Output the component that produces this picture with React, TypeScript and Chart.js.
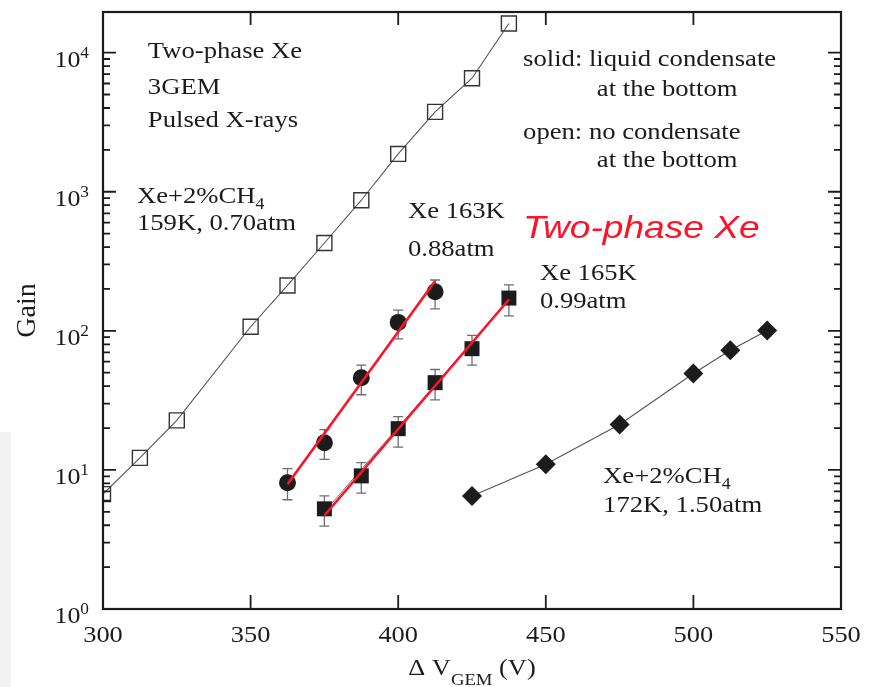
import React, { useEffect, useRef } from 'react';
import { Chart, registerables } from 'chart.js';

Chart.register(...registerables);

// ---- axis ranges & ticks ----
const X_MIN = 300;
const X_MAX = 550;
const Y_MIN = 1;
const Y_MAX = 19600;

const xTickValues = [300, 350, 400, 450, 500, 550];
const xTickLabels = ['300', '350', '400', '450', '500', '550'];
const yMajorValues = [1, 10, 100, 1000, 10000];
const yTickBase = '10';
const yTickExponents = ['0', '1', '2', '3', '4'];
const yMinorValues = [
  2, 3, 4, 5, 6, 7, 8, 9,
  20, 30, 40, 50, 60, 70, 80, 90,
  200, 300, 400, 500, 600, 700, 800, 900,
  2000, 3000, 4000, 5000, 6000, 7000, 8000, 9000,
];

// ---- series: Xe+2%CH4, 159K, 0.70atm (open squares) ----
const openSquareX = [300, 312.5, 325, 350, 362.5, 375, 387.5, 400, 412.5, 425, 437.5];
const openSquareGain = [6.7, 12.2, 22.7, 107, 212, 428, 869, 1870, 3750, 6550, 16200];

// ---- series: Xe 163K, 0.88atm (filled circles) ----
const circleX = [362.5, 375, 387.5, 400, 412.5];
const circleGain = [8.1, 15.7, 46, 115, 191];
const circleLow = [6.1, 11.9, 34.7, 87.6, 144];
const circleHigh = [10.2, 19.5, 56.7, 141, 232];

// ---- series: Xe 165K, 0.99atm (filled squares) ----
const filledSquareX = [375, 387.5, 400, 412.5, 425, 437.5];
const filledSquareGain = [5.25, 9.06, 19.8, 42.4, 74.4, 172];
const filledSquareLow = [3.94, 6.8, 14.6, 31.9, 56.7, 128];
const filledSquareHigh = [6.5, 11.3, 24.2, 52.7, 92.6, 214];

// ---- series: Xe+2%CH4, 172K, 1.50atm (diamonds) ----
const diamondX = [425, 450, 475, 500, 512.5, 525];
const diamondGain = [6.5, 11.0, 21.2, 49.4, 72.5, 100.7];

// ---- fit lines ----
const circleFitX = [362.5, 412.5];
const circleFitGain = [7.9, 228];
const squareFitX = [375, 437.5];
const squareFitGain = [4.7, 168];
const squareGrayFitX = [375, 437.5];
const squareGrayFitGain = [5.0, 166];

// ---- text ----
type Seg = { t: string; size?: number; dy?: number };
const CH4: Seg[] = [{ t: 'Xe+2%CH' }, { t: '4', size: 16, dy: 6 }];
const notes: { segs: Seg[]; x: number; y: number; red?: boolean }[] = [
  { segs: [{ t: 'Two-phase Xe' }], x: 315.2, y: 9200 },
  { segs: [{ t: '3GEM' }], x: 315.2, y: 5012 },
  { segs: [{ t: 'Pulsed X-rays' }], x: 315.2, y: 2917 },
  { segs: CH4, x: 311.5, y: 824 },
  { segs: [{ t: '159K, 0.70atm' }], x: 311.5, y: 529 },
  { segs: [{ t: 'Xe 163K' }], x: 403.3, y: 644 },
  { segs: [{ t: '0.88atm' }], x: 403.3, y: 345 },
  { segs: [{ t: 'Two-phase Xe' }], x: 442.3, y: 464, red: true },
  { segs: [{ t: 'Xe 165K' }], x: 448.0, y: 233 },
  { segs: [{ t: '0.99atm' }], x: 448.0, y: 147 },
  { segs: [{ t: 'solid: liquid condensate' }], x: 442.3, y: 8072 },
  { segs: [{ t: 'at the bottom' }], x: 467.3, y: 4853 },
  { segs: [{ t: 'open: no condensate' }], x: 442.3, y: 2395 },
  { segs: [{ t: 'at the bottom' }], x: 467.3, y: 1513 },
  { segs: CH4, x: 469.4, y: 8.04 },
  { segs: [{ t: '172K, 1.50atm' }], x: 469.4, y: 5.0 },
];
const yTitle = 'Gain';
const xTitle: Seg[] = [{ t: 'Δ V' }, { t: 'GEM', size: 17, dy: 10 }, { t: ' (V)' }];

const INK = '#1e1a1b';
const RED = 'rgb(255,18,40)';
const SERIF = '"Liberation Serif", "Times New Roman", serif';
const SANS = '"Liberation Sans", Arial, sans-serif';

function drawRich(
  ctx: CanvasRenderingContext2D,
  segs: Seg[],
  x: number,
  y: number,
  o: { size: number; family: string; style?: string; color: string; align?: string; sx?: number; rotate?: number }
) {
  const fontFor = (s: Seg) => `${o.style || ''} ${s.size || o.size}px ${o.family}`;
  const widths: number[] = [];
  let total = 0;
  for (const s of segs) {
    ctx.font = fontFor(s);
    const w = ctx.measureText(s.t).width;
    widths.push(w);
    total += w;
  }
  ctx.save();
  ctx.translate(x, y);
  if (o.rotate) ctx.rotate(o.rotate);
  ctx.scale(o.sx || 1, 1);
  let cx = o.align === 'center' ? -total / 2 : o.align === 'right' ? -total : 0;
  ctx.fillStyle = o.color;
  ctx.textAlign = 'left';
  ctx.textBaseline = 'alphabetic';
  segs.forEach((s, i) => {
    ctx.font = fontFor(s);
    ctx.fillText(s.t, cx, s.dy || 0);
    cx += widths[i];
  });
  ctx.restore();
}

const decorPlugin = {
  id: 'decor',
  beforeDraw(chart: any) {
    const ctx = chart.ctx;
    ctx.save();
    ctx.fillStyle = '#ffffff';
    ctx.fillRect(0, 0, chart.width, chart.height);
    ctx.fillStyle = '#f1f1f1';
    ctx.fillRect(0, 432, 11, chart.height - 432);
    ctx.restore();
  },
  beforeDatasetsDraw(chart: any) {
    const ctx = chart.ctx;
    const xs = chart.scales.x;
    const ys = chart.scales.y;
    const bars = [
      { x: circleX, lo: circleLow, hi: circleHigh },
      { x: filledSquareX, lo: filledSquareLow, hi: filledSquareHigh },
    ];
    ctx.save();
    ctx.strokeStyle = '#6e6e6e';
    ctx.lineWidth = 1.3;
    for (const b of bars) {
      b.x.forEach((xv, i) => {
        const px = xs.getPixelForValue(xv);
        const p1 = ys.getPixelForValue(b.lo[i]);
        const p2 = ys.getPixelForValue(b.hi[i]);
        ctx.beginPath();
        ctx.moveTo(px, p1);
        ctx.lineTo(px, p2);
        ctx.moveTo(px - 5, p1);
        ctx.lineTo(px + 5, p1);
        ctx.moveTo(px - 5, p2);
        ctx.lineTo(px + 5, p2);
        ctx.stroke();
      });
    }
    ctx.restore();
  },
  afterDraw(chart: any) {
    const ctx = chart.ctx;
    const xs = chart.scales.x;
    const ys = chart.scales.y;
    const a = chart.chartArea;
    ctx.save();
    ctx.strokeStyle = INK;
    ctx.lineWidth = 1.8;
    const MAJ = 13;
    const MIN = 7;
    ctx.beginPath();
    yMajorValues.forEach((v) => {
      const py = ys.getPixelForValue(v);
      ctx.moveTo(a.left, py);
      ctx.lineTo(a.left + MAJ, py);
      ctx.moveTo(a.right, py);
      ctx.lineTo(a.right - MAJ, py);
    });
    yMinorValues.forEach((v) => {
      const py = ys.getPixelForValue(v);
      ctx.moveTo(a.left, py);
      ctx.lineTo(a.left + MIN, py);
      ctx.moveTo(a.right, py);
      ctx.lineTo(a.right - MIN, py);
    });
    xTickValues.forEach((v) => {
      const px = xs.getPixelForValue(v);
      ctx.moveTo(px, a.bottom);
      ctx.lineTo(px, a.bottom - MAJ - 1);
      ctx.moveTo(px, a.top);
      ctx.lineTo(px, a.top + MAJ);
    });
    ctx.stroke();
    ctx.lineWidth = 2.2;
    ctx.strokeRect(a.left, a.top, a.right - a.left, a.bottom - a.top);
    ctx.restore();

    xTickValues.forEach((v, i) => {
      drawRich(ctx, [{ t: xTickLabels[i] }], xs.getPixelForValue(v), a.bottom + 33, {
        size: 24, family: SERIF, color: INK, align: 'center', sx: 1.1,
      });
    });
    yMajorValues.forEach((v, i) => {
      drawRich(ctx, [{ t: yTickBase }, { t: yTickExponents[i], size: 16, dy: -9 }], a.left - 14, ys.getPixelForValue(v) + 14, {
        size: 24, family: SERIF, color: INK, align: 'right', sx: 1.08,
      });
    });
    drawRich(ctx, xTitle, (a.left + a.right) / 2, a.bottom + 66, {
      size: 24, family: SERIF, color: INK, align: 'center', sx: 1.1,
    });
    drawRich(ctx, [{ t: yTitle }], 35, (a.top + a.bottom) / 2, {
      size: 28, family: SERIF, color: INK, align: 'center', rotate: -Math.PI / 2,
    });
    notes.forEach((n) => {
      const px = xs.getPixelForValue(n.x);
      const py = ys.getPixelForValue(n.y);
      if (n.red) {
        drawRich(ctx, n.segs, px, py, { size: 32, family: SANS, style: 'italic', color: RED, sx: 1.16 });
      } else {
        drawRich(ctx, n.segs, px, py, { size: 24, family: SERIF, color: INK, sx: 1.11 });
      }
    });
  },
};

const pts = (xs: number[], ys: number[]) => xs.map((x, i) => ({ x, y: ys[i] }));

export default function App() {
  const ref = useRef<HTMLCanvasElement | null>(null);
  useEffect(() => {
    document.body.style.margin = '0';
    const canvas = ref.current;
    if (!canvas) return;
    const chart = new Chart(canvas, {
      type: 'scatter',
      data: {
        datasets: [
          {
            label: 'fit 163K',
            data: pts(circleFitX, circleFitGain),
            showLine: true,
            borderColor: RED,
            borderWidth: 2.6,
            pointRadius: 0,
          },
          {
            label: 'fit 165K',
            data: pts(squareFitX, squareFitGain),
            showLine: true,
            borderColor: RED,
            borderWidth: 2.6,
            pointRadius: 0,
          },
          {
            label: 'Xe 163K, 0.88atm',
            data: pts(circleX, circleGain),
            pointStyle: 'circle',
            pointRadius: 8.5,
            backgroundColor: '#1c1c1c',
            borderColor: '#1c1c1c',
            borderWidth: 0,
          },
          {
            label: 'Xe 165K, 0.99atm',
            data: pts(filledSquareX, filledSquareGain),
            pointStyle: 'rect',
            pointRadius: 10.6,
            backgroundColor: '#1c1c1c',
            borderColor: '#1c1c1c',
            borderWidth: 0,
          },
          {
            label: 'gray fit 165K',
            data: pts(squareGrayFitX, squareGrayFitGain),
            showLine: true,
            borderColor: '#777777',
            borderWidth: 1,
            pointRadius: 0,
          },
          {
            label: 'Xe+2%CH4 172K, 1.50atm',
            data: pts(diamondX, diamondGain),
            showLine: true,
            borderColor: '#555555',
            borderWidth: 1.1,
            pointStyle: 'rectRot',
            pointRadius: 10,
            pointBackgroundColor: '#1c1c1c',
            pointBorderColor: '#1c1c1c',
            pointBorderWidth: 0,
          },
          {
            label: 'Xe+2%CH4 159K, 0.70atm',
            data: pts(openSquareX, openSquareGain),
            showLine: true,
            borderColor: '#555555',
            borderWidth: 1.1,
            pointStyle: 'rect',
            pointRadius: 10.6,
            pointBackgroundColor: 'rgba(0,0,0,0)',
            pointBorderColor: '#333333',
            pointBorderWidth: 1.4,
          },
        ],
      },
      options: {
        responsive: false,
        animation: false,
        devicePixelRatio: 1,
        events: [],
        layout: { padding: { left: 103, right: 41, top: 7, bottom: 78 } },
        scales: {
          x: { type: 'linear', min: X_MIN, max: X_MAX, display: false },
          y: { type: 'logarithmic', min: Y_MIN, max: Y_MAX, display: false },
        },
        plugins: {
          legend: { display: false },
          tooltip: { enabled: false },
        },
      },
      plugins: [decorPlugin],
    });
    return () => chart.destroy();
  }, []);
  return (
    <div style={{ width: 882, height: 687 }}>
      <canvas ref={ref} width={882} height={687} style={{ display: 'block' }} />
    </div>
  );
}
